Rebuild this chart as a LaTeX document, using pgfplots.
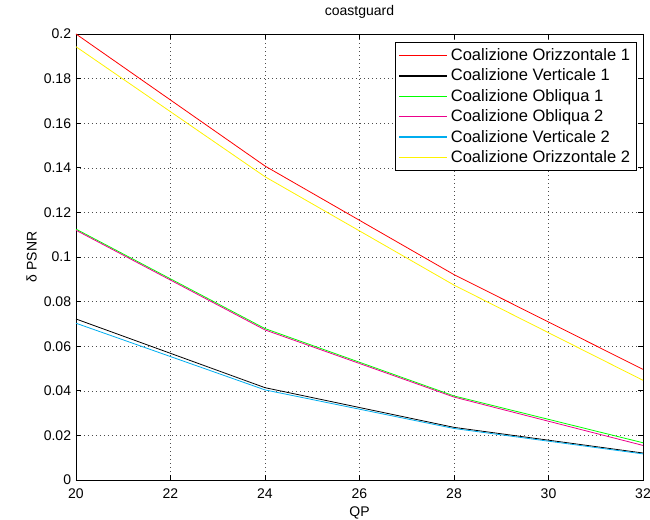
\documentclass[border=0pt]{standalone}
\usepackage{fontspec}
\setmainfont{Liberation Sans}
\usepackage{pgfplots}
\pgfplotsset{compat=1.18}
\begin{document}
\fontsize{10.5}{12.6}\selectfont
\begin{tikzpicture}
\useasboundingbox (-57pt,-30pt) rectangle (430.5pt,360pt);
\begin{axis}[
  scale only axis,
  width=425.25pt, height=334.5pt,
  xmin=20, xmax=32, ymin=0, ymax=0.2,
  xtick={20,22,...,32},
  ytick={0,0.02,...,0.2},
  yticklabels={0,0.02,0.04,0.06,0.08,0.1,0.12,0.14,0.16,0.18,0.2},
  /pgf/number format/assume math mode=true,
  tick label style={font=\fontsize{10.5}{12}\selectfont},
  xticklabel style={yshift=-3pt},
  label style={font=\fontsize{10.5}{12}\selectfont},
  title style={font=\fontsize{10.5}{12}\selectfont, yshift=1.8pt},
  title={coastguard},
  xlabel={QP}, ylabel={δ PSNR},
  xlabel style={yshift=1pt},
  ylabel style={yshift=-2pt},
  grid=major,
  major grid style={black!70, dash pattern=on 0.6pt off 2.4pt, line width=0.4pt},
  tick align=inside,
  major tick length=4pt,
  axis line style={black, line width=0.6pt},
  every tick/.style={black, line width=0.5pt},
  legend cell align=left,
  legend style={at={(1,1)}, anchor=north east, xshift=-5pt, yshift=-6pt,
    font=\fontsize{12.4}{14}\selectfont,
    row sep=0.8pt, inner sep=2.5pt},
  legend image code/.code={\draw[#1, line width=1.1pt] (0pt,0pt) -- (36pt,0pt);},
]
\addplot[red, line width=0.6pt] coordinates {(20,0.2) (24,0.1408) (28,0.0921) (32,0.0496)};
\addlegendentry{Coalizione Orizzontale 1}
\addplot[black, line width=0.6pt] coordinates {(20,0.0722) (24,0.0414) (28,0.0236) (32,0.0121)};
\addlegendentry{Coalizione Verticale 1}
\addplot[green, line width=0.6pt] coordinates {(20,0.1125) (24,0.0679) (28,0.0377) (32,0.0167)};
\addlegendentry{Coalizione Obliqua 1}
\addplot[magenta, line width=0.6pt] coordinates {(20,0.1120) (24,0.0673) (28,0.0372) (32,0.0155)};
\addlegendentry{Coalizione Obliqua 2}
\addplot[cyan, line width=0.6pt] coordinates {(20,0.0703) (24,0.0404) (28,0.0231) (32,0.0117)};
\addlegendentry{Coalizione Verticale 2}
\addplot[yellow, line width=0.6pt] coordinates {(20,0.1943) (24,0.1360) (28,0.0874) (32,0.0447)};
\addlegendentry{Coalizione Orizzontale 2}
\end{axis}
\end{tikzpicture}
\end{document}
